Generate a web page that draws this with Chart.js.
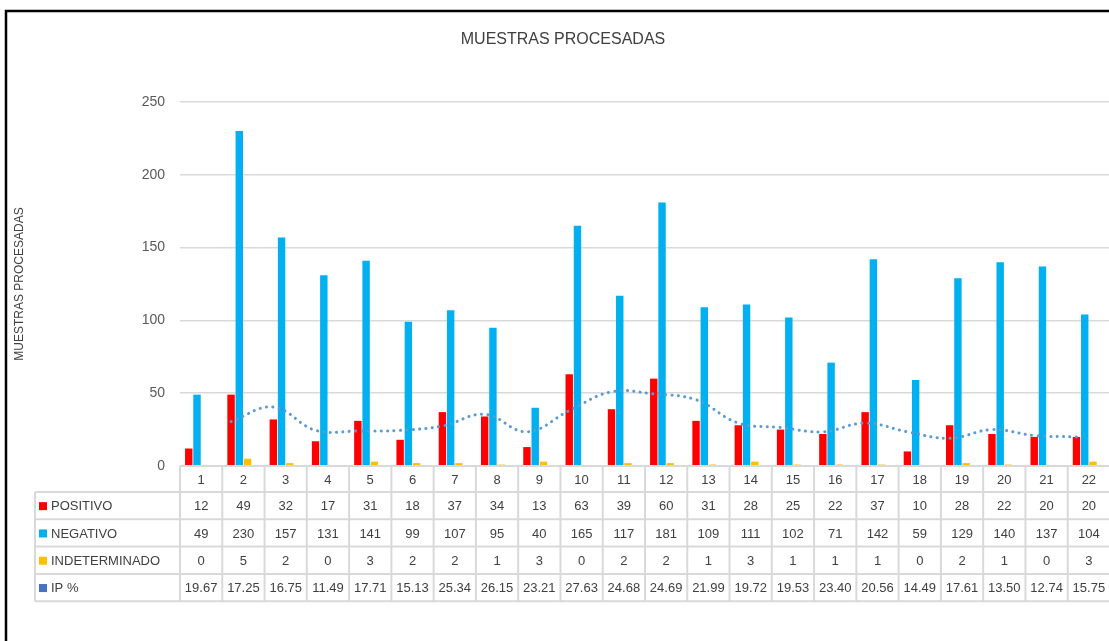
<!DOCTYPE html>
<html><head><meta charset="utf-8">
<script src="https://cdn.jsdelivr.net/npm/chart.js@4"></script>
<style>
html,body{margin:0;padding:0;overflow:hidden;background:#fff;width:1109px;height:641px}
canvas{display:block}
</style></head>
<body>
<canvas id="c" width="1125" height="641"></canvas>
<script>
const chartTitle = 'MUESTRAS PROCESADAS';
const yTitle = 'MUESTRAS PROCESADAS';
const categories = ['1','2','3','4','5','6','7','8','9','10','11','12','13','14','15','16','17','18','19','20','21','22'];
const positivo = [12,49,32,17,31,18,37,34,13,63,39,60,31,28,25,22,37,10,28,22,20,20];
const negativo = [49,230,157,131,141,99,107,95,40,165,117,181,109,111,102,71,142,59,129,140,137,104];
const indeterminado = [0,5,2,0,3,2,2,1,3,0,2,2,1,3,1,1,1,0,2,1,0,3];
const ipPct = [19.67,17.25,16.75,11.49,17.71,15.13,25.34,26.15,23.21,27.63,24.68,24.69,21.99,19.72,19.53,23.40,20.56,14.49,17.61,13.50,12.74,15.75];
// dotted trend line (2-period moving average of POSITIVO)
const tendencia = [null,30.5,40.5,24.5,24,24.5,27.5,35.5,23.5,38,51,49.5,45.5,29.5,26.5,23.5,29.5,23.5,19,25,21,20];
const yTicks = [0,50,100,150,200,250];
const seriesNames = ['POSITIVO','NEGATIVO','INDETERMINADO','IP %'];
const seriesColors = ['#FF0000','#00B0F0','#FFC000','#4472C4'];

const catPct = 0.78, barPct = 0.9;
const FONT = '"Liberation Sans", Arial, sans-serif';

// the trend line sits over the first (POSITIVO) bar of each group, as in the original
const shiftPlugin = {
  id: 'shiftPlugin',
  beforeDatasetDraw(chart, args) {
    if (args.meta.type !== 'line') return;
    const area = chart.chartArea;
    const catW = (area.right - area.left) / categories.length;
    chart.ctx.save();
    chart.ctx.translate(-1.5 * catW * catPct / 4, 0);
  },
  afterDatasetDraw(chart, args) {
    if (args.meta.type !== 'line') return;
    chart.ctx.restore();
  }
};

const tablePlugin = {
  id: 'tablePlugin',
  beforeDraw(chart) {
    const c = chart.ctx;
    c.save();
    c.fillStyle = '#fff';
    c.fillRect(0, 0, chart.width, chart.height);
    c.strokeStyle = '#000';
    c.lineWidth = 2.5;
    c.beginPath();
    c.moveTo(6, chart.height); c.lineTo(6, 11); c.lineTo(chart.width, 11);
    c.stroke();
    c.fillStyle = '#404040';
    c.font = '16px ' + FONT;
    c.textAlign = 'center'; c.textBaseline = 'middle';
    c.fillText(chartTitle, 563, 40);
    c.save();
    c.translate(20, 284);
    c.rotate(-Math.PI / 2);
    c.font = '12px ' + FONT;
    c.fillStyle = '#404040';
    c.fillText(yTitle, 0, 0);
    c.restore();
    c.restore();
  },
  afterDraw(chart) {
    const c = chart.ctx;
    const x = chart.scales.x;
    const area = chart.chartArea;
    const n = categories.length;
    const w = (area.right - area.left) / n;
    const top = area.bottom;
    const headH = 26, rowH = 27.3;
    const labelLeft = 35;
    const rows = [positivo, negativo, indeterminado, ipPct];
    c.save();
    c.strokeStyle = '#D9D9D9';
    c.lineWidth = 2;
    const totalBottom = top + headH + rowH * rows.length;
    c.beginPath();
    c.moveTo(area.left, top); c.lineTo(chart.width, top);
    for (let r = 0; r <= rows.length; r++) {
      const yy = top + headH + r * rowH;
      c.moveTo(labelLeft, yy); c.lineTo(chart.width, yy);
    }
    for (let i = 0; i <= n; i++) {
      const xx = area.left + i * w;
      c.moveTo(xx, top); c.lineTo(xx, totalBottom);
    }
    c.moveTo(labelLeft, top + headH); c.lineTo(labelLeft, totalBottom);
    c.stroke();
    c.fillStyle = '#404040';
    c.font = '13px ' + FONT;
    c.textAlign = 'center'; c.textBaseline = 'middle';
    for (let i = 0; i < n; i++) {
      const cx = x.getPixelForValue(i);
      c.fillText(categories[i], cx, top + headH / 2 + 1);
      rows.forEach((arr, r) => {
        const v = r === 3 ? arr[i].toFixed(2) : String(arr[i]);
        c.fillText(v, cx, top + headH + r * rowH + rowH / 2 + 1);
      });
    }
    c.textAlign = 'left';
    rows.forEach((arr, r) => {
      const cy = top + headH + r * rowH + rowH / 2;
      c.fillStyle = seriesColors[r];
      c.fillRect(labelLeft + 4, cy - 3.5, 8, 8);
      c.fillStyle = '#404040';
      c.fillText(seriesNames[r], labelLeft + 16, cy + 1);
    });
    c.restore();
  }
};

const barDatasets = [positivo, negativo, indeterminado, ipPct].map((arr, k) => ({
  type: 'bar',
  label: seriesNames[k],
  data: arr,
  backgroundColor: k === 3 ? 'rgba(0,0,0,0)' : seriesColors[k],
  borderWidth: 0,
  categoryPercentage: catPct,
  barPercentage: barPct,
  order: 1
}));

new Chart(document.getElementById('c'), {
  type: 'bar',
  data: {
    labels: categories,
    datasets: [
      ...barDatasets,
      {
        type: 'line',
        label: 'Tendencia',
        data: tendencia,
        borderColor: '#5B9BD5',
        borderWidth: 3,
        borderDash: [0.1, 6.3],
        borderCapStyle: 'round',
        pointRadius: 0,
        tension: 0.4,
        fill: false,
        order: 0
      }
    ]
  },
  options: {
    responsive: false,
    animation: false,
    layout: { padding: { left: 140, top: 102, right: 15, bottom: 175 } },
    plugins: { legend: { display: false }, tooltip: { enabled: false }, title: { display: false } },
    scales: {
      x: { type: 'category', display: false, offset: true },
      y: {
        min: 0, max: 250,
        afterFit(s) { s.width = 40; },
        afterBuildTicks(s) { s.ticks = yTicks.map(v => ({ value: v })); },
        ticks: { color: '#595959', font: { size: 14, family: FONT }, padding: 15 },
        grid: { color: '#D9D9D9', lineWidth: 1.5, drawTicks: false },
        border: { display: false }
      }
    }
  },
  plugins: [tablePlugin, shiftPlugin]
});
</script>
</body></html>
